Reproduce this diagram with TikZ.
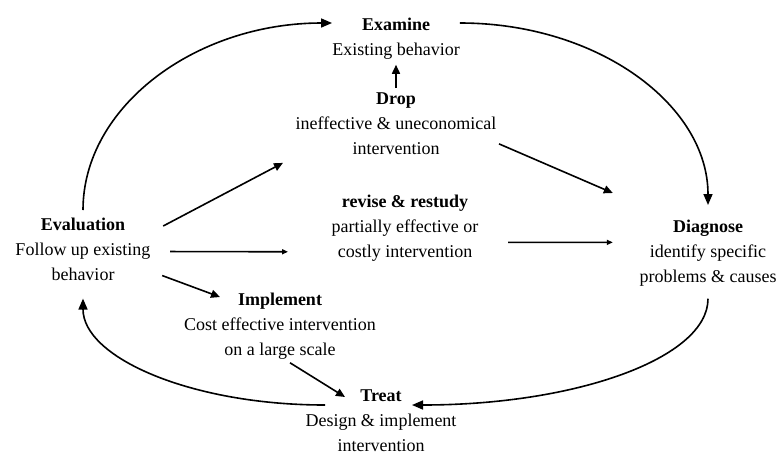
\documentclass[tikz,border=0pt]{standalone}
\usepackage{fontspec}
\setmainfont{Liberation Serif}
\usetikzlibrary{arrows.meta}
\begin{document}
\begin{tikzpicture}[x=1pt,y=-1pt,
  stage/.style={anchor=north,align=center,inner sep=0pt,
    font=\fontsize{18}{25}\selectfont},
  flow/.style={line width=1.6pt,-{Triangle[length=11pt,width=9pt]}},
  link/.style={line width=1.6pt,-{Triangle[length=9pt,width=8pt]}},
  faint/.style={line width=1.6pt,-{Triangle[length=6pt,width=5pt]}}]
\useasboundingbox (0,0) rectangle (779,456);

% stages of the cycle
\node[stage] (exam)   at (396,18)  {\textbf{Examine}\\Existing behavior};
\node[stage] (drop)   at (396,93)  {\textbf{Drop}\\ineffective \& uneconomical\\intervention};
\node[stage] (eval)   at (83,218)  {\textbf{Evaluation}\\Follow up existing\\behavior};
\node[stage] (revise) at (405,195) {\textbf{revise \& restudy}\\partially effective or\\costly intervention};
\node[stage] (diag)   at (708,220) {\textbf{Diagnose}\\identify specific\\problems \& causes};
\node[stage] (impl)   at (280,293) {\textbf{Implement}\\Cost effective intervention\\on a large scale};
\node[stage] (treat)  at (381,390) {\textbf{Treat}\\Design \& implement\\intervention};

% outer cycle
\draw[flow] ([yshift=8pt]eval.north)
  .. controls +(0,-103) and +(-137,0) .. ([yshift=-5pt]exam.north west);
\draw[flow] ([yshift=-5pt]exam.north east)
  .. controls +(138,0) and +(0,-100) .. ([yshift=15pt]diag.north);
\draw[flow] ([yshift=-12pt]diag.south)
  .. controls +(0,59) and +(165,0) .. ([xshift=31pt,yshift=-15pt]treat.north);
\draw[flow] ([xshift=-56pt,yshift=-15pt]treat.north)
  .. controls +(-134,0) and +(0,59) .. ([yshift=-17.5pt]eval.south);

% outcomes of the evaluation
\draw[link] (drop.north) [shorten <=5pt,shorten >=5pt] -- (exam.south);
\draw[link] ([xshift=12.5pt,yshift=-8pt]eval.north east) -- ([xshift=-12.5pt,yshift=-7.5pt]drop.south west);
\draw[link] ([xshift=2.5pt,yshift=11.5pt]drop.south east) -- ([xshift=-26.5pt,yshift=27pt]diag.north west);
\draw[faint] ([xshift=19.5pt,yshift=-2pt]eval.east) -- ([xshift=-43.5pt,yshift=10pt]revise.south west);
\draw[faint] ([xshift=29.5pt,yshift=-14pt]revise.east) -- ([xshift=-26.5pt,yshift=11pt]diag.west);
\draw[link] ([xshift=11.5pt,yshift=5.5pt]eval.south east) -- ([xshift=-60pt,yshift=-4pt]impl.north);
\draw[link] ([xshift=10pt,yshift=-3pt]impl.south) -- ([xshift=-36pt,yshift=-7pt]treat.north);
\end{tikzpicture}
\end{document}
